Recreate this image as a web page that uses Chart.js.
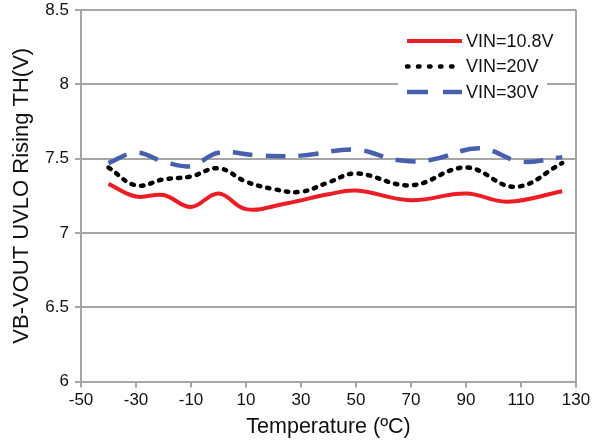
<!DOCTYPE html>
<html>
<head>
<meta charset="utf-8">
<script src="https://cdn.jsdelivr.net/npm/chart.js@4.4.1/dist/chart.umd.min.js"></script>
<style>
  html, body { margin: 0; padding: 0; background: #fff; }
  #wrap { width: 597px; height: 442px; }
</style>
</head>
<body>
<div id="wrap"><canvas id="chart"></canvas></div>
<script>
"use strict"

const tempRed = [-40, -30, -20, -10, 0, 10, 25, 40, 50, 70, 90, 105, 125];
const vin108 = [7.33, 7.245, 7.255, 7.175, 7.265, 7.16, 7.2, 7.26, 7.285, 7.22, 7.265, 7.21, 7.28];

const tempBlack = [-40, -30, -20, -10, 0, 10, 20, 30, 40, 50, 70, 90, 108, 125];
const vin20 = [7.44, 7.32, 7.36, 7.38, 7.435, 7.345, 7.295, 7.277, 7.34, 7.40, 7.32, 7.44, 7.31, 7.47];

const tempBlue = [-40, -30, -20, -10, 0, 15, 30, 50, 65, 77, 95, 110, 125];
const vin30 = [7.47, 7.54, 7.48, 7.45, 7.54, 7.52, 7.52, 7.56, 7.49, 7.49, 7.57, 7.48, 7.51];

const seriesNames = ['VIN=10.8V', 'VIN=20V', 'VIN=30V'];

const xTicks = [-50, 130, 20];   // min, max, step
const yTicks = [6, 8.5, 0.5];

const gray = '#a6a6a6';
const font = "'Liberation Sans', Arial, sans-serif";

function pts(xs, ys) {
    return xs.map((x, i) => ({ x: x, y: ys[i] }));
};

// legend drawn inside the plot, Excel style
const boxLegend = {
    id: 'boxLegend',
    afterDraw(chart) {
        const ctx = chart.ctx;
        const area = chart.chartArea;
        const left = area.right - 169;
        const top = area.top;
        ctx.save();
        ctx.fillStyle = '#fff';
        ctx.fillRect(left - 9, top + 12, 149, 92);
        chart.data.datasets.forEach((ds, i) => {
            const y = top + 31 + i * 25.5;
            ctx.beginPath();
            ctx.strokeStyle = ds.borderColor;
            ctx.lineWidth = ds.borderWidth;
            ctx.lineCap = ds.borderCapStyle || 'butt';
            ctx.setLineDash(ds.legendDash || []);
            ctx.moveTo(left, y);
            ctx.lineTo(left + 55, y);
            ctx.stroke();
            ctx.setLineDash([]);
            ctx.fillStyle = '#111';
            ctx.font = '18px ' + font;
            ctx.textBaseline = 'middle';
            ctx.fillText(ds.label, left + 59, y + 1);
        });
        ctx.restore();
    }
};

new Chart(document.getElementById('chart'), {
    type: 'line',
    data: {
        datasets: [{
            label: seriesNames[0],
            data: pts(tempRed, vin108),
            borderColor: '#ee1c24',
            borderWidth: 4,
            tension: 0.4,
            pointRadius: 0
        }, {
            label: seriesNames[1],
            data: pts(tempBlack, vin20),
            borderColor: '#000',
            borderWidth: 4.5,
            borderDash: [2.5, 7],
            legendDash: [1.5, 9.5],
            borderCapStyle: 'round',
            tension: 0.4,
            pointRadius: 0
        }, {
            label: seriesNames[2],
            data: pts(tempBlue, vin30),
            borderColor: '#4660ad',
            borderWidth: 4.5,
            borderDash: [20, 13],
            legendDash: [21, 15],
            tension: 0.4,
            pointRadius: 0
        }]
    },
    options: {
        responsive: true,
        maintainAspectRatio: false,
        animation: false,
        layout: { padding: { top: 10, right: 21, left: 0, bottom: 0 } },
        plugins: {
            legend: { display: false },
            tooltip: { enabled: false }
        },
        scales: {
            x: {
                type: 'linear',
                min: xTicks[0],
                max: xTicks[1],
                ticks: {
                    stepSize: xTicks[2],
                    color: '#111',
                    padding: 3,
                    maxRotation: 0,
                    font: { family: font, size: 17 }
                },
                grid: {
                    color: c => c.tick && c.tick.value === xTicks[1] ? gray : 'transparent',
                    tickColor: gray,
                    tickLength: 6,
                    lineWidth: 2
                },
                border: { color: gray, width: 2 },
                title: {
                    display: true,
                    text: 'Temperature (ºC)',
                    color: '#111',
                    padding: { top: 0, bottom: 2 },
                    font: { family: font, size: 21.5 }
                },
                afterFit: s => { s.height = 60.5; }
            },
            y: {
                min: yTicks[0],
                max: yTicks[1],
                ticks: {
                    stepSize: yTicks[2],
                    color: '#111',
                    padding: 6,
                    font: { family: font, size: 17 },
                    callback: v => String(+v.toFixed(1))
                },
                grid: {
                    color: gray,
                    tickColor: gray,
                    tickLength: 6,
                    lineWidth: 2
                },
                border: { color: gray, width: 2 },
                title: {
                    display: true,
                    text: 'VB-VOUT UVLO Rising TH(V)',
                    color: '#111',
                    padding: { top: 9, bottom: 0 },
                    font: { family: font, size: 22 }
                },
                afterFit: s => {
                    s.width = 81;
                    s.paddingTop = 0;
                    s.paddingBottom = 0;
                }
            }
        }
    },
    plugins: [boxLegend]
});
</script>
</body>
</html>
